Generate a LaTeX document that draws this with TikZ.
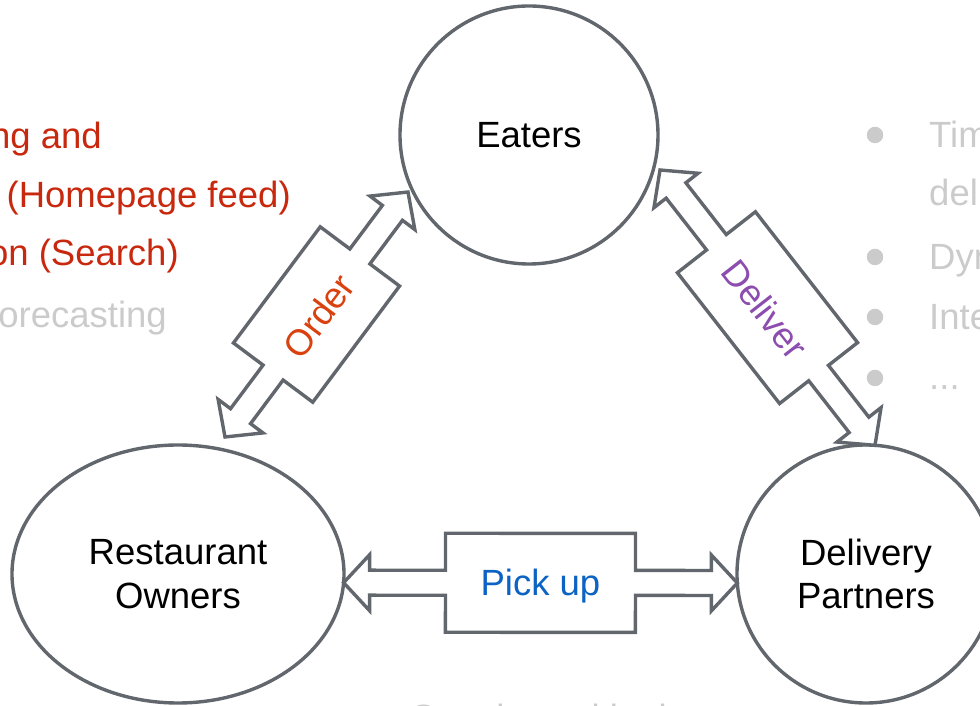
\documentclass[tikz,border=0pt]{standalone}
\usepackage{fontspec}
\setmainfont{Liberation Sans}
\usetikzlibrary{shapes.geometric,calc}

\definecolor{edge}{HTML}{62666D}
\definecolor{rankred}{HTML}{C8290E}
\definecolor{ordercol}{HTML}{D9410F}
\definecolor{delivcol}{HTML}{8D4DAE}
\definecolor{pickcol}{HTML}{0D63C3}
\definecolor{faded}{HTML}{CBCBCB}

\newcommand\partyfont{\fontsize{36.5}{43.8}\selectfont}

\tikzset{
  party/.style={draw=edge, line width=3.4pt, fill=white, inner sep=0pt,
                outer sep=0pt, align=center, font=\partyfont},
  blockarrow/.style={draw=edge, line width=3.4pt, fill=white, line join=miter},
  arrowlabel/.style={font=\partyfont, inner sep=0pt},
  sidenote/.style={font=\partyfont, inner sep=0pt},
  bulletdot/.style={circle, fill=faded, minimum size=16.5pt, inner sep=0pt},
}

% Double-headed block arrow with a wide middle box, drawn from #1 to #2.
% #3 box length, #4 label colour, #5 label text, #6 label node name
\newdimen\baXa \newdimen\baYa \newdimen\baXb \newdimen\baYb
\newcommand\blockarrow[6]{%
  \pgfextractx{\baXa}{\pgfpointanchor{#1}{center}}%
  \pgfextracty{\baYa}{\pgfpointanchor{#1}{center}}%
  \pgfextractx{\baXb}{\pgfpointanchor{#2}{center}}%
  \pgfextracty{\baYb}{\pgfpointanchor{#2}{center}}%
  \pgfmathsetmacro\baAng{atan2(\baYb-\baYa,\baXb-\baXa)}%
  \pgfmathsetmacro\baLen{veclen(\baXb-\baXa,\baYb-\baYa)}%
  \pgfmathsetmacro\baBa{(\baLen-#3)/2}%
  \pgfmathsetmacro\baBb{(\baLen+#3)/2}%
  \pgfmathsetmacro\baHd{\baLen-26}%
  \begin{scope}[shift={(#1)},rotate=\baAng]
    \draw[blockarrow] (0,0) -- (26,28) -- (26,12.5) -- (\baBa,12.5)
      -- (\baBa,49.5) -- (\baBb,49.5) -- (\baBb,12.5) -- (\baHd,12.5)
      -- (\baHd,28) -- (\baLen,0) -- (\baHd,-28) -- (\baHd,-12.5)
      -- (\baBb,-12.5) -- (\baBb,-49.5) -- (\baBa,-49.5) -- (\baBa,-12.5)
      -- (26,-12.5) -- (26,-28) -- cycle;
    \node[arrowlabel, text=#4, rotate=\baAng] (#6) at ({\baLen/2},-3) {#5};
  \end{scope}}

\begin{document}
\begin{tikzpicture}[x=1pt,y=1pt]
  \useasboundingbox (0,0) rectangle (980,706);
  \clip (0,0) rectangle (980,706);

  % the three parties
  \node[party, circle, minimum size=258] (eat) at (529,571) {Eaters};
  \node[party, ellipse, minimum width=332, minimum height=258] (ro) at (178,132) {Restaurant\\Owners};
  \node[party, circle, minimum size=258] (dp) at (866,132) {Delivery\\Partners};

  % arrow end points
  \coordinate (ord-a) at ($(ro.center)+(47,137)$);
  \coordinate (ord-b) at ($(eat.center)+(-121,-57)$);
  \coordinate (dlv-a) at ($(eat.center)+(131,-35)$);
  \coordinate (dlv-b) at (dp.86);
  \coordinate (pck-a) at (ro.-3.8);
  \coordinate (pck-b) at (dp.184.9);

  \blockarrow{ord-a}{ord-b}{145}{ordercol}{Order}{ord-lbl}
  \blockarrow{dlv-a}{dlv-b}{166}{delivcol}{Deliver}{dlv-lbl}
  \blockarrow{pck-a}{pck-b}{190}{pickcol}{Pick up}{pck-lbl}

  % problems on the eater side
  \node[sidenote, text=rankred, anchor=base east] (l1) at (102,557) {Ranking and};
  \node[sidenote, text=rankred, anchor=base east] (l2) at (291,498) {Recommendation (Homepage feed)};
  \node[sidenote, text=rankred, anchor=base east] (l3) at (179,440) {Personalization (Search)};
  \node[sidenote, text=faded, anchor=base east] (l4) at (167,378) {Demand forecasting};

  % problems on the delivery side
  \node[bulletdot] (b1) at (875,571) {};
  \node[bulletdot] (b2) at (875,449) {};
  \node[bulletdot] (b3) at (875,389) {};
  \node[bulletdot] (b4) at (875,328) {};
  \node[sidenote, text=faded, anchor=base west] (r1) at (929,558) {Time of};
  \node[sidenote, text=faded, anchor=base west] (r2) at (929,500) {delivery};
  \node[sidenote, text=faded, anchor=base west] (r3) at (929,436) {Dynamic pricing};
  \node[sidenote, text=faded, anchor=base west] (r4) at (929,376) {Intelligent dispatch};
  \node[sidenote, text=faded, anchor=base west] (r5) at (929,316) {...};

  % problems on the pick-up side
  \node[sidenote, text=faded, anchor=base west] (bt) at (411,-25) {Supply positioning};
\end{tikzpicture}
\end{document}
